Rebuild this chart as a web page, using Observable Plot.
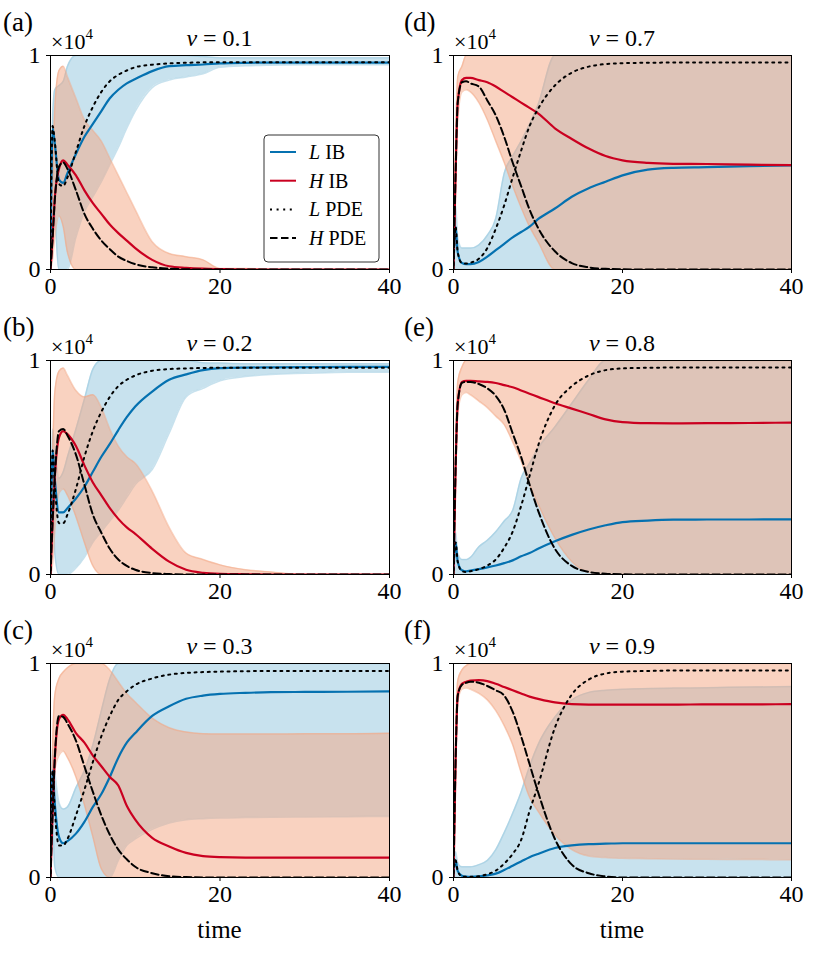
<!DOCTYPE html>
<html>
<head>
<meta charset="utf-8">
<script src="https://cdn.jsdelivr.net/npm/d3@7"></script>
<script src="https://cdn.jsdelivr.net/npm/@observablehq/plot@0.6"></script>
<style>
  body { margin: 0; background: #fff; }
  #fig { position: relative; width: 831px; height: 970px; background: #fff; overflow: hidden; }
  .panel { position: absolute; }
  .panel svg { overflow: visible; font-family: 'Liberation Serif', 'Times New Roman', serif; }
  .panel svg g[aria-label="x-axis tick label"],
  .panel svg g[aria-label="y-axis tick label"],
  .panel svg g[aria-label="x-axis"] text,
  .panel svg g[aria-label="y-axis"] text,
  .panel svg g[aria-label="x-axis tick label"] text,
  .panel svg g[aria-label="y-axis tick label"] text {
    font-size: 24px; font-family: 'Liberation Serif', 'Times New Roman', serif;
  }
</style>
</head>
<body>
<div id="fig"></div>
<script>
// time grid (shared by every series)
const T = [0, 0.25, 0.5, 1, 1.5, 2, 3, 4, 5, 6, 7, 8, 9, 10, 12, 14, 16, 18, 20, 23, 26, 30, 35, 40];
const xTicks = [0, 20, 40];
const yTicks = [0, 1];
const seriesLabels = ["L IB", "H IB", "L PDE", "H PDE"];
const nuValues = ["0.1", "0.2", "0.3", "0.7", "0.8", "0.9"];

// (a) nu = 0.1   values in units of 10^4
const aLIB  = [0.02, 0.66, 0.59, 0.42, 0.405, 0.45, 0.54, 0.62, 0.68, 0.74, 0.80, 0.84, 0.87, 0.89, 0.927, 0.95, 0.955, 0.958, 0.963, 0.966, 0.967, 0.967, 0.967, 0.967];
const aHIB  = [0, 0.15, 0.33, 0.47, 0.51, 0.49, 0.44, 0.37, 0.31, 0.26, 0.21, 0.17, 0.135, 0.10, 0.045, 0.015, 0.008, 0.004, 0.002, 0, 0, 0, 0, 0];
const aLPDE = [0.02, 0.67, 0.60, 0.40, 0.39, 0.43, 0.55, 0.67, 0.76, 0.83, 0.88, 0.91, 0.93, 0.945, 0.957, 0.963, 0.966, 0.968, 0.968, 0.968, 0.968, 0.968, 0.968, 0.968];
const aHPDE = [0, 0.15, 0.32, 0.48, 0.50, 0.47, 0.37, 0.26, 0.19, 0.135, 0.095, 0.06, 0.04, 0.025, 0.01, 0.004, 0.001, 0, 0, 0, 0, 0, 0, 0];
const aLlo  = [0, 0.55, 0.30, 0, 0, 0, 0.15, 0.27, 0.34, 0.41, 0.49, 0.57, 0.66, 0.74, 0.85, 0.885, 0.90, 0.915, 0.945, 0.952, 0.955, 0.957, 0.957, 0.957];
const aLhi  = [0.05, 0.72, 0.84, 0.86, 0.88, 0.95, 1.02, 1.08, 1.10, 1.10, 1.10, 1.10, 1.08, 1.06, 1.03, 1.01, 1.0, 0.995, 0.99, 0.99, 0.99, 0.99, 0.99, 0.99];
const aHlo  = [0, 0.05, 0.15, 0.25, 0.20, 0.08, 0, 0, 0, 0, 0, 0, 0, 0, 0, 0, 0, 0, 0, 0, 0, 0, 0, 0];
const aHhi  = [0, 0.40, 0.75, 0.93, 0.95, 0.90, 0.80, 0.70, 0.65, 0.60, 0.52, 0.44, 0.36, 0.28, 0.13, 0.075, 0.06, 0.045, 0.005, 0.005, 0, 0, 0, 0];

// (b) nu = 0.2
const bLIB  = [0.02, 0.58, 0.45, 0.29, 0.29, 0.31, 0.355, 0.41, 0.48, 0.55, 0.61, 0.675, 0.735, 0.785, 0.855, 0.91, 0.935, 0.955, 0.964, 0.967, 0.968, 0.969, 0.97, 0.97];
const bHIB  = [0, 0.25, 0.45, 0.64, 0.67, 0.656, 0.60, 0.51, 0.43, 0.37, 0.31, 0.26, 0.22, 0.19, 0.12, 0.06, 0.022, 0.008, 0.003, 0.001, 0, 0, 0, 0];
const bLPDE = [0.02, 0.58, 0.42, 0.24, 0.24, 0.28, 0.40, 0.55, 0.67, 0.76, 0.83, 0.88, 0.91, 0.93, 0.952, 0.96, 0.963, 0.965, 0.966, 0.966, 0.966, 0.966, 0.966, 0.966];
const bHPDE = [0, 0.25, 0.45, 0.67, 0.68, 0.65, 0.56, 0.42, 0.28, 0.195, 0.12, 0.07, 0.04, 0.022, 0.007, 0.002, 0, 0, 0, 0, 0, 0, 0, 0];
const bLlo  = [0, 0.40, 0.10, 0, 0, 0, 0.03, 0.08, 0.15, 0.20, 0.25, 0.30, 0.36, 0.42, 0.49, 0.66, 0.83, 0.87, 0.905, 0.925, 0.935, 0.94, 0.945, 0.945];
const bLhi  = [0.02, 0.68, 0.60, 0.45, 0.48, 0.55, 0.68, 0.82, 0.96, 1.05, 1.08, 1.08, 1.08, 1.08, 1.05, 1.02, 1.0, 0.99, 0.988, 0.985, 0.985, 0.985, 0.985, 0.985];
const bHlo  = [0, 0.05, 0.20, 0.38, 0.40, 0.37, 0.27, 0.15, 0.04, 0, 0, 0, 0, 0, 0, 0, 0, 0, 0, 0, 0, 0, 0, 0];
const bHhi  = [0, 0.55, 0.85, 0.95, 0.965, 0.93, 0.86, 0.83, 0.84, 0.78, 0.68, 0.60, 0.55, 0.52, 0.39, 0.22, 0.10, 0.07, 0.045, 0.022, 0.012, 0, 0, 0];

// (c) nu = 0.3
const cLIB  = [0.02, 0.50, 0.35, 0.19, 0.16, 0.17, 0.205, 0.26, 0.33, 0.39, 0.47, 0.56, 0.63, 0.675, 0.755, 0.80, 0.835, 0.85, 0.858, 0.863, 0.866, 0.867, 0.868, 0.87];
const cHIB  = [0, 0.30, 0.55, 0.74, 0.76, 0.74, 0.675, 0.63, 0.57, 0.52, 0.47, 0.43, 0.335, 0.27, 0.185, 0.145, 0.115, 0.10, 0.095, 0.093, 0.093, 0.093, 0.093, 0.093];
const cLPDE = [0.02, 0.50, 0.32, 0.15, 0.15, 0.18, 0.29, 0.41, 0.54, 0.66, 0.755, 0.83, 0.87, 0.90, 0.93, 0.948, 0.956, 0.96, 0.962, 0.964, 0.965, 0.965, 0.965, 0.965];
const cHPDE = [0, 0.30, 0.55, 0.755, 0.75, 0.72, 0.64, 0.52, 0.40, 0.29, 0.20, 0.13, 0.085, 0.05, 0.02, 0.006, 0.002, 0, 0, 0, 0, 0, 0, 0];
const cLlo  = [0, 0.25, 0.05, 0, 0, 0, 0, 0, 0, 0, 0, 0.08, 0.15, 0.18, 0.225, 0.255, 0.27, 0.275, 0.278, 0.28, 0.282, 0.283, 0.284, 0.285];
const cLhi  = [0.02, 0.60, 0.50, 0.35, 0.32, 0.33, 0.42, 0.50, 0.62, 0.78, 0.93, 1.03, 1.05, 1.05, 1.05, 1.05, 1.05, 1.05, 1.05, 1.05, 1.05, 1.05, 1.05, 1.05];
const cHlo  = [0, 0.30, 0.50, 0.57, 0.59, 0.56, 0.47, 0.34, 0.19, 0.04, 0, 0, 0, 0, 0, 0, 0, 0, 0, 0, 0, 0, 0, 0];
const cHhi  = [0, 0.60, 0.85, 0.93, 0.96, 0.98, 1.01, 1.03, 1.03, 1.02, 0.97, 0.915, 0.86, 0.82, 0.745, 0.70, 0.68, 0.672, 0.67, 0.67, 0.67, 0.672, 0.672, 0.674];

// (d) nu = 0.7
const dLIB  = [0.02, 0.20, 0.08, 0.03, 0.025, 0.025, 0.035, 0.06, 0.09, 0.12, 0.15, 0.175, 0.20, 0.235, 0.285, 0.34, 0.38, 0.41, 0.44, 0.467, 0.475, 0.478, 0.483, 0.487];
const dHIB  = [0, 0.45, 0.78, 0.885, 0.895, 0.895, 0.885, 0.875, 0.855, 0.83, 0.805, 0.78, 0.755, 0.73, 0.66, 0.61, 0.565, 0.53, 0.51, 0.498, 0.494, 0.493, 0.49, 0.488];
const dLPDE = [0.02, 0.20, 0.08, 0.03, 0.028, 0.032, 0.05, 0.10, 0.19, 0.30, 0.43, 0.555, 0.67, 0.75, 0.86, 0.92, 0.948, 0.96, 0.964, 0.966, 0.967, 0.967, 0.967, 0.967];
const dHPDE = [0, 0.45, 0.78, 0.875, 0.88, 0.87, 0.855, 0.79, 0.72, 0.62, 0.50, 0.39, 0.28, 0.195, 0.085, 0.03, 0.01, 0.003, 0.001, 0, 0, 0, 0, 0];
const dLlo  = [0, 0, 0, 0, 0, 0, 0, 0, 0, 0, 0, 0, 0, 0, 0, 0, 0, 0, 0, 0, 0, 0, 0, 0];
const dLhi  = [0.02, 0.30, 0.15, 0.10, 0.10, 0.10, 0.115, 0.16, 0.24, 0.45, 0.53, 0.60, 0.68, 0.77, 1.0, 1.05, 1.05, 1.05, 1.05, 1.05, 1.05, 1.05, 1.05, 1.05];
const dHlo  = [0, 0.40, 0.70, 0.83, 0.84, 0.83, 0.78, 0.70, 0.60, 0.50, 0.39, 0.29, 0.20, 0.13, 0, 0, 0, 0, 0, 0, 0, 0, 0, 0];
const dHhi  = [0, 0.60, 0.90, 0.95, 1.0, 1.02, 1.05, 1.05, 1.05, 1.05, 1.05, 1.05, 1.05, 1.05, 1.05, 1.05, 1.05, 1.05, 1.05, 1.05, 1.05, 1.05, 1.05, 1.05];

// (e) nu = 0.8
const eLIB  = [0.02, 0.15, 0.06, 0.02, 0.015, 0.018, 0.025, 0.033, 0.042, 0.053, 0.066, 0.085, 0.10, 0.12, 0.155, 0.185, 0.21, 0.23, 0.245, 0.252, 0.256, 0.257, 0.257, 0.258];
const eHIB  = [0, 0.50, 0.80, 0.90, 0.905, 0.905, 0.902, 0.90, 0.895, 0.885, 0.875, 0.86, 0.845, 0.83, 0.80, 0.775, 0.75, 0.725, 0.712, 0.707, 0.706, 0.707, 0.708, 0.71];
const eLPDE = [0.02, 0.15, 0.06, 0.015, 0.012, 0.015, 0.025, 0.042, 0.07, 0.125, 0.20, 0.32, 0.46, 0.60, 0.79, 0.88, 0.93, 0.955, 0.963, 0.966, 0.967, 0.967, 0.967, 0.967];
const eHPDE = [0, 0.50, 0.80, 0.895, 0.90, 0.90, 0.89, 0.87, 0.835, 0.77, 0.66, 0.55, 0.42, 0.30, 0.12, 0.04, 0.012, 0.004, 0.001, 0, 0, 0, 0, 0];
const eLlo  = [0, 0, 0, 0, 0, 0, 0, 0, 0, 0, 0, 0, 0, 0, 0, 0, 0, 0, 0, 0, 0, 0, 0, 0];
const eLhi  = [0.02, 0.20, 0.10, 0.07, 0.07, 0.08, 0.13, 0.16, 0.20, 0.25, 0.30, 0.45, 0.52, 0.59, 0.69, 0.80, 0.91, 1.01, 1.05, 1.05, 1.05, 1.05, 1.05, 1.05];
const eHlo  = [0, 0.45, 0.75, 0.84, 0.85, 0.84, 0.81, 0.78, 0.74, 0.70, 0.62, 0.53, 0.42, 0.33, 0.17, 0.06, 0.01, 0, 0, 0, 0, 0, 0, 0];
const eHhi  = [0, 0.60, 0.90, 0.97, 1.0, 1.03, 1.05, 1.05, 1.05, 1.05, 1.05, 1.05, 1.05, 1.05, 1.05, 1.05, 1.05, 1.05, 1.05, 1.05, 1.05, 1.05, 1.05, 1.05];

// (f) nu = 0.9
const fLIB  = [0.02, 0.08, 0.03, 0.008, 0.004, 0.003, 0.005, 0.01, 0.018, 0.035, 0.055, 0.075, 0.095, 0.11, 0.138, 0.15, 0.156, 0.158, 0.16, 0.16, 0.16, 0.16, 0.16, 0.16];
const fHIB  = [0, 0.55, 0.85, 0.905, 0.915, 0.92, 0.922, 0.918, 0.905, 0.89, 0.875, 0.86, 0.845, 0.835, 0.818, 0.81, 0.808, 0.808, 0.808, 0.808, 0.808, 0.809, 0.809, 0.81];
const fLPDE = [0.02, 0.08, 0.03, 0.005, 0.003, 0.003, 0.006, 0.015, 0.032, 0.065, 0.11, 0.175, 0.31, 0.43, 0.70, 0.855, 0.925, 0.953, 0.962, 0.965, 0.967, 0.967, 0.967, 0.967];
const fHPDE = [0, 0.55, 0.85, 0.90, 0.91, 0.915, 0.91, 0.895, 0.875, 0.85, 0.775, 0.66, 0.53, 0.40, 0.18, 0.06, 0.02, 0.005, 0, 0, 0, 0, 0, 0];
const fLlo  = [0, 0, 0, 0, 0, 0, 0, 0, 0, 0, 0, 0, 0, 0, 0, 0, 0, 0, 0, 0, 0, 0, 0, 0];
const fLhi  = [0.02, 0.12, 0.07, 0.05, 0.05, 0.05, 0.06, 0.08, 0.13, 0.21, 0.30, 0.40, 0.52, 0.62, 0.75, 0.83, 0.865, 0.875, 0.88, 0.883, 0.885, 0.887, 0.89, 0.892];
const fHlo  = [0, 0.50, 0.82, 0.88, 0.885, 0.88, 0.86, 0.83, 0.78, 0.71, 0.62, 0.49, 0.375, 0.31, 0.20, 0.13, 0.10, 0.093, 0.09, 0.088, 0.086, 0.085, 0.084, 0.083];
const fHhi  = [0, 0.65, 0.92, 0.97, 0.99, 1.0, 1.05, 1.05, 1.05, 1.05, 1.05, 1.05, 1.05, 1.05, 1.05, 1.05, 1.05, 1.05, 1.05, 1.05, 1.05, 1.05, 1.05, 1.05];

// colours
const colLIB = "#0571b0", colHIB = "#ca0020", fillL = "#92c5de", fillH = "#f4a582";

const panels = [
  {id: "a", nu: nuValues[0], col: 0, row: 0, s: [aLIB, aHIB, aLPDE, aHPDE, aLlo, aLhi, aHlo, aHhi]},
  {id: "b", nu: nuValues[1], col: 0, row: 1, s: [bLIB, bHIB, bLPDE, bHPDE, bLlo, bLhi, bHlo, bHhi]},
  {id: "c", nu: nuValues[2], col: 0, row: 2, s: [cLIB, cHIB, cLPDE, cHPDE, cLlo, cLhi, cHlo, cHhi]},
  {id: "d", nu: nuValues[3], col: 1, row: 0, s: [dLIB, dHIB, dLPDE, dHPDE, dLlo, dLhi, dHlo, dHhi]},
  {id: "e", nu: nuValues[4], col: 1, row: 1, s: [eLIB, eHIB, eLPDE, eHPDE, eLlo, eLhi, eHlo, eHhi]},
  {id: "f", nu: nuValues[5], col: 1, row: 2, s: [fLIB, fHIB, fLPDE, fHPDE, fLlo, fLhi, fHlo, fHhi]}
];

const cols = [
  {left: 0, width: 410, mL: 50, mR: 21, letterX: 3},
  {left: 400, width: 431, mL: 53, mR: 40, letterX: 4}
];
const rowTops = [0, 305, 608];
const MT = 55, PH = 214;
const FONT = "'Liberation Serif', 'Times New Roman', serif";
const curve = "monotone-x";
const DOT = "2,4.6", DASH = "7.5,3.5";

const fig = document.getElementById("fig");

function addText(sel, x, y, size, anchor) {
  return sel.append("text").attr("x", x).attr("y", y).attr("font-size", size)
    .attr("text-anchor", anchor).attr("font-family", FONT).attr("fill", "black");
}

function build(p) {
  const C = cols[p.col];
  const bottom = p.row === 2;
  const H = bottom ? 362 : 300;
  const MB = H - MT - PH;
  const [LIB, HIB, LPDE, HPDE, Llo, Lhi, Hlo, Hhi] = p.s;
  const rows = T.map((t, i) => ({t, LIB: LIB[i], HIB: HIB[i], LPDE: LPDE[i], HPDE: HPDE[i],
    Llo: Llo[i], Lhi: Lhi[i], Hlo: Hlo[i], Hhi: Hhi[i]}));
  const common = {x: "t", curve, clip: true};
  const chart = Plot.plot({
    width: C.width, height: H,
    marginLeft: C.mL, marginRight: C.mR, marginTop: MT, marginBottom: MB,
    style: {fontFamily: FONT, fontSize: "24px", background: "transparent", overflow: "visible", color: "black"},
    x: {domain: [0, 40], ticks: xTicks, tickSize: 4, tickPadding: 3, tickFormat: d => String(d), label: null},
    y: {domain: [0, 1], ticks: yTicks, tickSize: 4, tickPadding: 6, tickFormat: d => String(d), label: null, clamp: true},
    marks: [
      Plot.areaY(rows, {...common, y1: "Llo", y2: "Lhi", fill: fillL, fillOpacity: 0.5}),
      Plot.lineY(rows, {...common, y: "Llo", stroke: fillL, strokeOpacity: 0.5, strokeWidth: 1.5}),
      Plot.lineY(rows, {...common, y: "Lhi", stroke: fillL, strokeOpacity: 0.5, strokeWidth: 1.5}),
      Plot.areaY(rows, {...common, y1: "Hlo", y2: "Hhi", fill: fillH, fillOpacity: 0.5}),
      Plot.lineY(rows, {...common, y: "Hlo", stroke: fillH, strokeOpacity: 0.5, strokeWidth: 1.5}),
      Plot.lineY(rows, {...common, y: "Hhi", stroke: fillH, strokeOpacity: 0.5, strokeWidth: 1.5}),
      Plot.lineY(rows, {...common, y: "LIB", stroke: colLIB, strokeWidth: 2.2}),
      Plot.lineY(rows, {...common, y: "HIB", stroke: colHIB, strokeWidth: 2.2}),
      Plot.lineY(rows, {...common, y: "LPDE", stroke: "black", strokeWidth: 2, strokeDasharray: DOT}),
      Plot.lineY(rows, {...common, y: "HPDE", stroke: "black", strokeWidth: 2, strokeDasharray: DASH}),
      Plot.frame({stroke: "black", strokeWidth: 1})
    ]
  });

  const svg = d3.select(chart);
  const cx = C.mL + (C.width - C.mL - C.mR) / 2;
  addText(svg, C.letterX, 31, 27, "start").text(`(${p.id})`);
  const sc = addText(svg, C.mL + 1, 49, 22, "start");
  sc.append("tspan").text("×10");
  sc.append("tspan").attr("font-size", 15).attr("dy", -10).text("4");
  const tt = addText(svg, cx, 46, 24, "middle");
  tt.append("tspan").attr("font-style", "italic").text("ν");
  tt.append("tspan").text(" = " + p.nu);
  if (bottom) addText(svg, cx, 330, 25, "middle").text("time");
  if (p.id === "a") {
    const lg = svg.append("g");
    lg.append("rect").attr("x", 264).attr("y", 135).attr("width", 115).attr("height", 127)
      .attr("rx", 4).attr("fill", "white").attr("stroke", "#333").attr("stroke-width", 1);
    const styles = [
      {stroke: colLIB, dash: null},
      {stroke: colHIB, dash: null},
      {stroke: "black", dash: DOT},
      {stroke: "black", dash: DASH}
    ];
    seriesLabels.forEach((lab, i) => {
      const yy = 152 + i * 28.7;
      const ln = lg.append("line").attr("x1", 270).attr("x2", 296).attr("y1", yy).attr("y2", yy)
        .attr("stroke", styles[i].stroke).attr("stroke-width", 2);
      if (styles[i].dash) ln.attr("stroke-dasharray", styles[i].dash);
      const [v, rest] = lab.split(" ");
      const tx = addText(lg, 309, yy + 7, 20, "start");
      tx.append("tspan").attr("font-style", "italic").text(v);
      tx.append("tspan").text(" " + rest);
    });
  }

  const wrap = document.createElement("div");
  wrap.className = "panel";
  wrap.style.left = C.left + "px";
  wrap.style.top = rowTops[p.row] + "px";
  wrap.appendChild(chart);
  fig.appendChild(wrap);
}

panels.forEach(build);
</script>
</body>
</html>
